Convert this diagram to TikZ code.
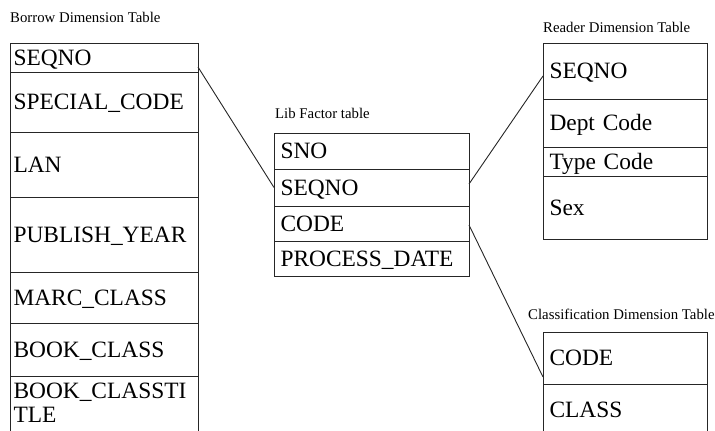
\documentclass[tikz,border=0pt]{standalone}
\usepackage{fontspec}
\setmainfont{Liberation Serif}
\begin{document}
\begin{tikzpicture}[x=1pt,y=-1pt,
  cell/.style={draw=black!85, line width=0.9pt, anchor=north west, outer sep=0pt,
    inner ysep=0pt, text height=15.5pt, text depth=0pt, align=left,
    font=\fontsize{23.4}{24}\selectfont},
  btab/.style={cell, inner xsep=3.5pt, text width=181pt},
  ltab/.style={cell, inner xsep=6.5pt, text width=182pt},
  rtab/.style={cell, inner xsep=6.5pt, text width=151pt},
  title/.style={anchor=base west, inner sep=0pt, font=\fontsize{14.8}{16}\selectfont},
  link/.style={draw=black!85, line width=0.9pt}]
\useasboundingbox (0,0) rectangle (715,431);
\clip (0,0) rectangle (715,431);
% titles
\node[title] (tb) at (10,23) {Borrow Dimension Table};
\node[title] (tl) at (275,118) {Lib Factor table};
\node[title] (tr) at (543,32) {Reader Dimension Table};
\node[title] (tc) at (528,319) {Classification Dimension Table};
% Borrow Dimension Table
\node[btab, minimum height=29pt] (b1) at (10,43) {SEQNO};
\node[btab, minimum height=60pt] (b2) at (b1.south west) {SPECIAL\_CODE};
\node[btab, minimum height=65pt] (b3) at (b2.south west) {LAN};
\node[btab, minimum height=75pt] (b4) at (b3.south west) {PUBLISH\_YEAR};
\node[btab, minimum height=51pt] (b5) at (b4.south west) {MARC\_CLASS};
\node[btab, minimum height=53pt] (b6) at (b5.south west) {BOOK\_CLASS};
\node[btab, minimum height=69pt, text depth=40pt] (b7) at (b6.south west) {BOOK\_CLASSTI\\TLE};
% Lib Factor table
\node[ltab, minimum height=36pt] (l1) at (274,133) {SNO};
\node[ltab, minimum height=37pt] (l2) at (l1.south west) {SEQNO};
\node[ltab, minimum height=35pt] (l3) at (l2.south west) {CODE};
\node[ltab, minimum height=35pt] (l4) at (l3.south west) {PROCESS\_DATE};
% Reader Dimension Table
\node[rtab, minimum height=56pt] (r1) at (543,43) {SEQNO};
\node[rtab, minimum height=48pt] (r2) at (r1.south west) {Dept Code};
\node[rtab, minimum height=29pt] (r3) at (r2.south west) {Type Code};
\node[rtab, minimum height=63pt] (r4) at (r3.south west) {Sex};
% Classification Dimension Table
\node[rtab, minimum height=52pt] (c1) at (543,332) {CODE};
\node[rtab, minimum height=51pt] (c2) at (c1.south west) {CLASS};
% connectors
\draw[link] ([yshift=5pt]b1.south east) -- (l2.west);
\draw[link] ([yshift=3.5pt]l2.east) -- ([yshift=-5pt]r1.west);
\draw[link] ([yshift=-1.5pt]l3.east) -- ([yshift=7pt]c1.south west);
\end{tikzpicture}
\end{document}
